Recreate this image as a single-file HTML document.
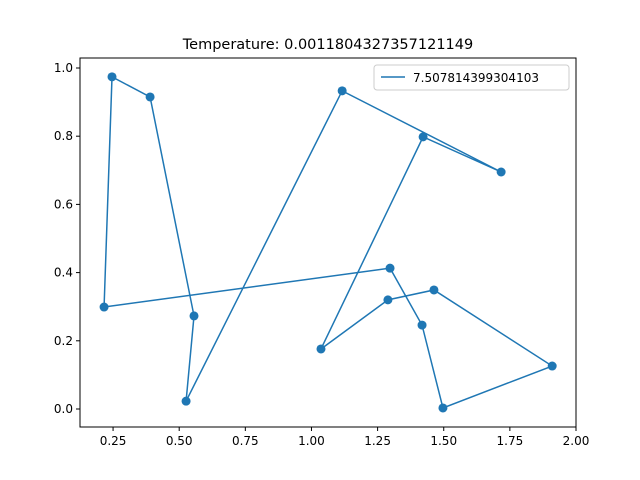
<!DOCTYPE html>
<html><head><meta charset="utf-8"><style>body{margin:0;background:#fff}svg{display:block;font-family:"DejaVu Sans","Liberation Sans",sans-serif}</style></head>
<body>
<svg id="chart" width="640" height="480"></svg>
<script>
const xs = [1.297,1.418,1.497,1.910,1.463,1.289,1.036,1.422,1.717,1.116,0.526,0.556,0.390,0.246,0.216];
const ys = [0.413,0.246,0.003,0.126,0.349,0.320,0.176,0.798,0.695,0.933,0.023,0.273,0.915,0.974,0.299];
const xTicks = [0.25,0.5,0.75,1.0,1.25,1.5,1.75,2.0];
const xTickLabels = ["0.25","0.50","0.75","1.00","1.25","1.50","1.75","2.00"];
const yTicks = [0,0.2,0.4,0.6,0.8,1.0];
const yTickLabels = ["0.0","0.2","0.4","0.6","0.8","1.0"];
const titleText = "Temperature: 0.0011804327357121149";
const legendText = "7.507814399304103";
const L=80,R=576,T=58,B=427, xmin=0.125,xmax=2.0,ymin=-0.0528,ymax=1.0293;
const sx=v=>L+(v-xmin)/(xmax-xmin)*(R-L);
const sy=v=>B-(v-ymin)/(ymax-ymin)*(B-T);
const svg=document.getElementById('chart');
const NS='http://www.w3.org/2000/svg';
function mk(tag,attrs,parent){const e=document.createElementNS(NS,tag);for(const k in attrs)e.setAttribute(k,attrs[k]);(parent||svg).appendChild(e);return e;}
const frame=mk('rect',{x:L,y:T,width:R-L,height:B-T,fill:'none',stroke:'#000','stroke-width':1});


xTicks.forEach((v,i)=>{const x=sx(v);
 const t=mk('line',{x1:x,x2:x,y1:B,y2:B+4,stroke:'#000'});
 
 
 const l=mk('text',{x:x,y:B+18,'font-size':12,'text-anchor':'middle'});l.textContent=xTickLabels[i];
 
 });
yTicks.forEach((v,i)=>{const y=sy(v);
 const t=mk('line',{x1:L-4,x2:L,y1:y,y2:y,stroke:'#000'});
 
 
 const l=mk('text',{x:L-7,y:y+4,'font-size':12,'text-anchor':'end'});l.textContent=yTickLabels[i];
 
 });
let d='';xs.forEach((v,i)=>{d+=(i?'L':'M')+sx(v)+','+sy(ys[i]);});d+='L'+sx(xs[0])+','+sy(ys[0]);
const p=mk('path',{d:d,fill:'none',stroke:'#1f77b4','stroke-width':1.5});


xs.forEach((v,i)=>{const c=mk('circle',{cx:sx(v),cy:sy(ys[i]),r:4.5,fill:'#1f77b4'});
 
 });
const title=mk('text',{x:(L+R)/2,y:49,'font-size':14.5,'text-anchor':'middle'});title.textContent=titleText;


const lg=mk('rect',{x:374,y:65,width:195,height:25,fill:'#fff',stroke:'#ccc',rx:3});


const ll=mk('line',{x1:381,x2:405,y1:77,y2:77,stroke:'#1f77b4','stroke-width':1.5});


const lt=mk('text',{x:413,y:82,'font-size':12});lt.textContent=legendText;


</script>
</body></html>
